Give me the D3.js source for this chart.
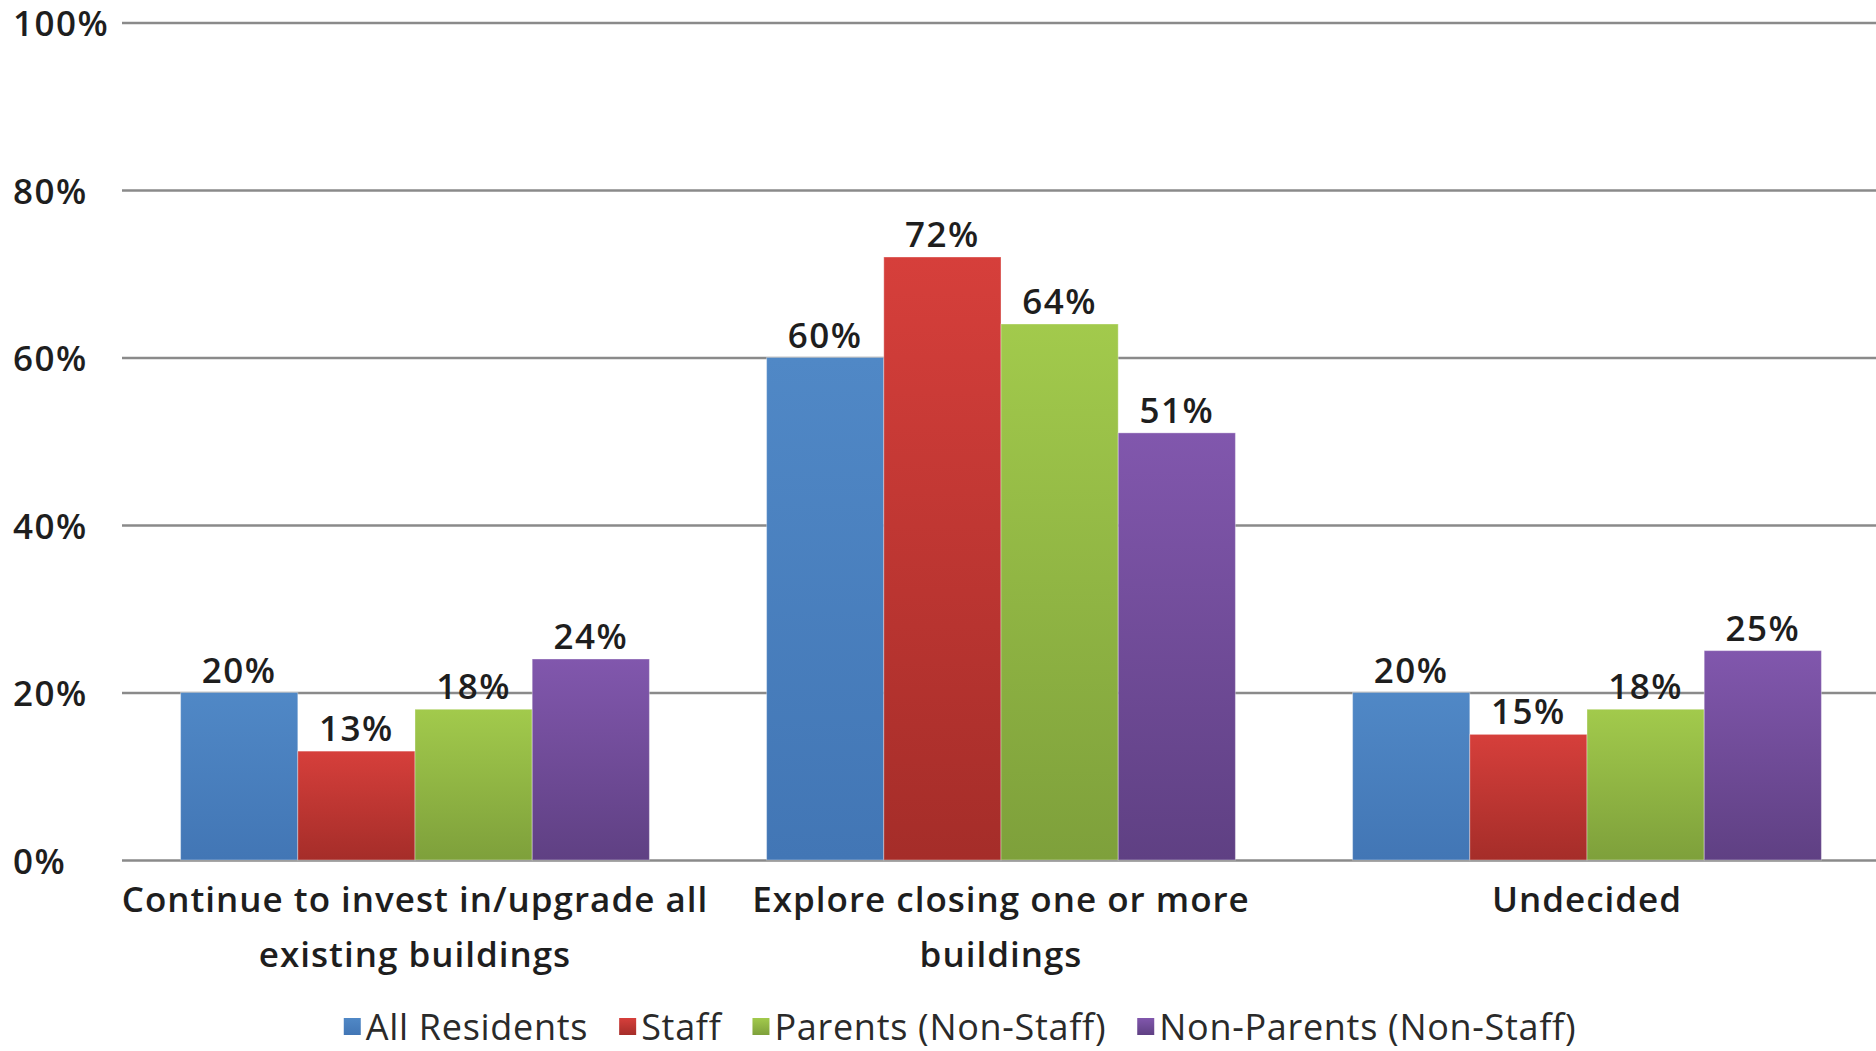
<!DOCTYPE html>
<html>
<head>
<meta charset="utf-8">
<script src="https://cdn.jsdelivr.net/npm/d3@7"></script>
<style>
  html, body { margin: 0; padding: 0; background: #ffffff; }
  svg { display: block; }
</style>
</head>
<body>
<svg id="chart" width="1876" height="1051"></svg>
<script>
const categories = ["Continue to invest in/upgrade all existing buildings", "Explore closing one or more buildings", "Undecided"];
const categoryLines = [["Continue to invest in/upgrade all", "existing buildings"], ["Explore closing one or more", "buildings"], ["Undecided"]];
const seriesNames = ["All Residents", "Staff", "Parents (Non-Staff)", "Non-Parents (Non-Staff)"];
const allResidents = [20, 60, 20];
const staff = [13, 72, 15];
const parents = [18, 64, 18];
const nonParents = [24, 51, 25];
const yTicks = [0, 20, 40, 60, 80, 100];
const colorsTop = ["#5088c6", "#d63f3b", "#a2ca4c", "#8157ad"];
const colorsBottom = ["#4276b5", "#a52d29", "#7ea03b", "#5f4083"];

const seriesValues = [allResidents, staff, parents, nonParents];
const svg = d3.select("#chart");
const W = 1876, H = 1051;
const plotLeft = 122, plotRight = 1880, plotTop = 22.5, plotBottom = 860;

const x0 = d3.scaleBand().domain(categories).range([plotLeft, plotRight]).paddingInner(0.2).paddingOuter(0.1);
const x1 = d3.scaleBand().domain(seriesNames).range([0, x0.bandwidth()]).padding(0);
const y = d3.scaleLinear().domain([0, 100]).range([plotBottom, plotTop]);

const defs = svg.append("defs");
seriesNames.forEach((s, i) => {
  const g = defs.append("linearGradient").attr("id", "grad" + i).attr("x1", 0).attr("y1", 0).attr("x2", 0).attr("y2", 1);
  g.append("stop").attr("offset", "0%").attr("stop-color", colorsTop[i]);
  g.append("stop").attr("offset", "100%").attr("stop-color", colorsBottom[i]);
});

const font = "'Open Sans', Lato, sans-serif";

// gridlines
const yAxis = d3.axisLeft(y).tickValues(yTicks).tickSize(-(W - plotLeft)).tickFormat(d => d + "%");
const gy = svg.append("g").attr("transform", `translate(${plotLeft},0)`).call(yAxis);
gy.select(".domain").remove();
gy.selectAll(".tick line").attr("stroke", "#8a8a8a").attr("stroke-width", 2.5);
gy.selectAll(".tick text")
  .attr("x", 13 - plotLeft)
  .attr("dy", "0.38em")
  .attr("text-anchor", "start")
  .attr("font-family", font)
  .attr("font-weight", 600)
  .attr("font-size", 35)
  .attr("letter-spacing", 1.5)
  .attr("fill", "#1e1e1e");

// bars
const groups = svg.append("g").selectAll("g").data(categories).join("g")
  .attr("transform", d => `translate(${x0(d)},0)`);

groups.each(function(cat, ci) {
  const g = d3.select(this);
  const data = seriesNames.map((s, si) => ({ s, si, v: seriesValues[si][ci] }));
  g.selectAll("rect").data(data).join("rect")
    .attr("x", d => x1(d.s))
    .attr("y", d => y(d.v))
    .attr("width", x1.bandwidth())
    .attr("height", d => y(0) - y(d.v))
    .attr("fill", d => `url(#grad${d.si})`)
    .attr("stroke", "rgba(255,255,255,0.35)")
    .attr("stroke-width", 1);
  g.selectAll("text.lbl").data(data).join("text")
    .attr("class", "lbl")
    .attr("x", d => x1(d.s) + x1.bandwidth() / 2)
    .attr("y", d => y(d.v) - 10)
    .attr("text-anchor", "middle")
    .attr("font-family", font)
    .attr("font-weight", 600)
    .attr("font-size", 35)
    .attr("letter-spacing", 1.5)
    .attr("fill", "#1e1e1e")
    .text(d => d.v + "%");
});

// category labels
categories.forEach((c, ci) => {
  const cx = x0(c) + x0.bandwidth() / 2;
  const t = svg.append("text")
    .attr("text-anchor", "middle")
    .attr("font-family", font)
    .attr("font-weight", 600)
    .attr("font-size", 35)
    .attr("letter-spacing", 1)
    .attr("fill", "#1e1e1e");
  categoryLines[ci].forEach((line, li) => {
    t.append("tspan").attr("x", cx).attr("y", 912 + li * 55).text(line);
  });
});

// legend
const legend = svg.append("g");
let lx = 0;
seriesNames.forEach((s, i) => {
  const item = legend.append("g").attr("transform", `translate(${lx},0)`);
  item.append("rect").attr("x", 0).attr("y", -9).attr("width", 17).attr("height", 17)
    .attr("fill", `url(#grad${i})`);
  const tx = item.append("text").attr("x", 22).attr("y", 0).attr("dy", "0.36em")
    .attr("font-family", font).attr("font-size", 36).attr("letter-spacing", 0.7)
    .attr("fill", "#2a2a2a").text(s);
  lx += 22 + tx.node().getComputedTextLength() + 31;
});
const legendWidth = lx - 31;
legend.attr("transform", `translate(${960 - legendWidth / 2},1027)`);
</script>
</body>
</html>
